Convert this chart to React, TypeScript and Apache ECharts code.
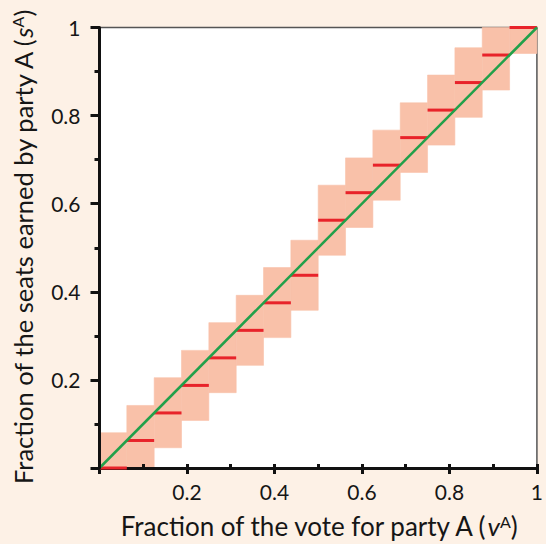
import React, { useEffect, useRef } from "react";
import * as echarts from "echarts";

// Vote-share bin edges (16 bins)
const VOTE_LEFT = [0, 0.0625, 0.125, 0.1875, 0.25, 0.3125, 0.375, 0.4375, 0.5, 0.5625, 0.625, 0.6875, 0.75, 0.8125, 0.875, 0.9375];
const VOTE_RIGHT = [0.0625, 0.125, 0.1875, 0.25, 0.3125, 0.375, 0.4375, 0.5, 0.5625, 0.625, 0.6875, 0.75, 0.8125, 0.875, 0.9375, 1];
// Seat share won in each bin (red steps)
const SEAT_SHARE = [0, 0.0625, 0.125, 0.1875, 0.25, 0.3125, 0.375, 0.4375, 0.5625, 0.625, 0.6875, 0.75, 0.8125, 0.875, 0.9375, 1];
// Shaded band (low / high seat share) per bin
const BAND_LOW = [0, 0, 0.046, 0.108, 0.171, 0.233, 0.296, 0.358, 0.483, 0.546, 0.608, 0.671, 0.733, 0.796, 0.858, 0.941];
const BAND_HIGH = [0.08, 0.142, 0.205, 0.267, 0.33, 0.392, 0.455, 0.517, 0.642, 0.704, 0.767, 0.829, 0.892, 0.954, 1, 1];
// Diagonal (proportional representation)
const DIAGONAL = [[0, 0], [1, 1]];

const BG = "#fdf1e6";
const BAND = "#f9c1a9";
const RED = "#e8232a";
const GREEN = "#21a04a";
const FONT = "Lato";
const TXT = "#161616";

export default function App() {
  const ref = useRef<HTMLDivElement>(null);
  useEffect(() => {
    if (!ref.current) return;
    const chart = echarts.init(ref.current, undefined, { renderer: "svg" });
    const bandData = VOTE_LEFT.map((x0, i) => [x0, VOTE_RIGHT[i], BAND_LOW[i], BAND_HIGH[i]]);
    const stepData = VOTE_LEFT.map((x0, i) => [x0, VOTE_RIGHT[i], SEAT_SHARE[i]]);
    const fmt = (v: number) => (v === 0 ? "" : v === 1 ? "1" : v.toFixed(1));
    const nameStyle = (size: number) => ({
      fontFamily: FONT,
      fontSize: size,
      color: TXT,
      rich: {
        i: { fontFamily: FONT, fontSize: size, fontStyle: "italic", color: TXT },
        sup: { fontFamily: FONT, fontSize: Math.round(size * 0.62), color: TXT, verticalAlign: "top" },
      },
    });
    chart.setOption({
      animation: false,
      backgroundColor: BG,
      textStyle: { fontFamily: FONT },
      grid: {
        left: 99.5,
        top: 27.5,
        width: 441,
        height: 440.5,
        show: true,
        backgroundColor: "#ffffff",
        borderColor: "#555555",
        borderWidth: 1.5,
      },
      xAxis: [
        {
          type: "value",
          min: 0,
          max: 1,
          interval: 0.2,
          position: "bottom",
          z: 1.5,
          name: "Fraction of the vote for party A ({i|v}{sup|A})",
          nameLocation: "middle",
          nameGap: 45,
          nameTextStyle: nameStyle(26),
          axisLine: { show: true, lineStyle: { color: "#111", width: 3 } },
          axisTick: { show: true, inside: false, length: 6, lineStyle: { color: "#111", width: 3 } },
          minorTick: { show: false },
          splitLine: { show: false },
          axisLabel: { formatter: fmt, margin: 13, fontSize: 21, color: TXT, fontFamily: FONT },
        },
        {
          type: "value",
          min: 0,
          max: 1,
          interval: 0.1,
          position: "bottom",
          z: 1.5,
          axisLine: { show: false },
          axisTick: { show: true, inside: true, length: 4, lineStyle: { color: "#111", width: 3 } },
          axisLabel: { show: false },
          splitLine: { show: false },
        },
      ],
      yAxis: {
        type: "value",
        min: 0,
        max: 1,
        interval: 0.2,
        z: 5,
        name: "Fraction of the seats earned by party A ({i|s}{sup|A})",
        nameLocation: "middle",
        nameGap: 64,
        nameTextStyle: nameStyle(25.5),
        axisLine: { show: true, lineStyle: { color: "#111", width: 3 } },
        axisTick: { show: true, inside: false, length: 9, lineStyle: { color: "#111", width: 3 } },
        minorTick: { show: true, splitNumber: 2, length: 5, lineStyle: { color: "#111", width: 3 } },
        splitLine: { show: false },
        axisLabel: { formatter: fmt, margin: 19, fontSize: 21, color: TXT, fontFamily: FONT },
      },
      series: [
        {
          type: "custom",
          z: 1,
          data: bandData,
          encode: { x: [0, 1], y: [2, 3] },
          renderItem: (params: any, api: any) => {
            const p0 = api.coord([api.value(0), api.value(3)]);
            const p1 = api.coord([api.value(1), api.value(2)]);
            return {
              type: "rect",
              shape: { x: p0[0], y: p0[1], width: p1[0] - p0[0], height: p1[1] - p0[1] },
              style: { fill: BAND, stroke: BAND, lineWidth: 0.6 },
            };
          },
        },
        {
          type: "custom",
          z: 3,
          data: stepData,
          encode: { x: [0, 1], y: 2 },
          renderItem: (params: any, api: any) => {
            const p0 = api.coord([api.value(0), api.value(2)]);
            const p1 = api.coord([api.value(1), api.value(2)]);
            return {
              type: "line",
              shape: { x1: p0[0], y1: p0[1], x2: p1[0], y2: p1[1] },
              style: { stroke: RED, lineWidth: 3 },
            };
          },
        },
        {
          type: "line",
          z: 4,
          data: DIAGONAL,
          symbol: "none",
          lineStyle: { color: GREEN, width: 2.5 },
        },
      ],
    });
    return () => chart.dispose();
  }, []);
  return (
    <div
      ref={ref}
      style={{ position: "fixed", left: 0, top: 0, width: 546, height: 544 }}
    />
  );
}
